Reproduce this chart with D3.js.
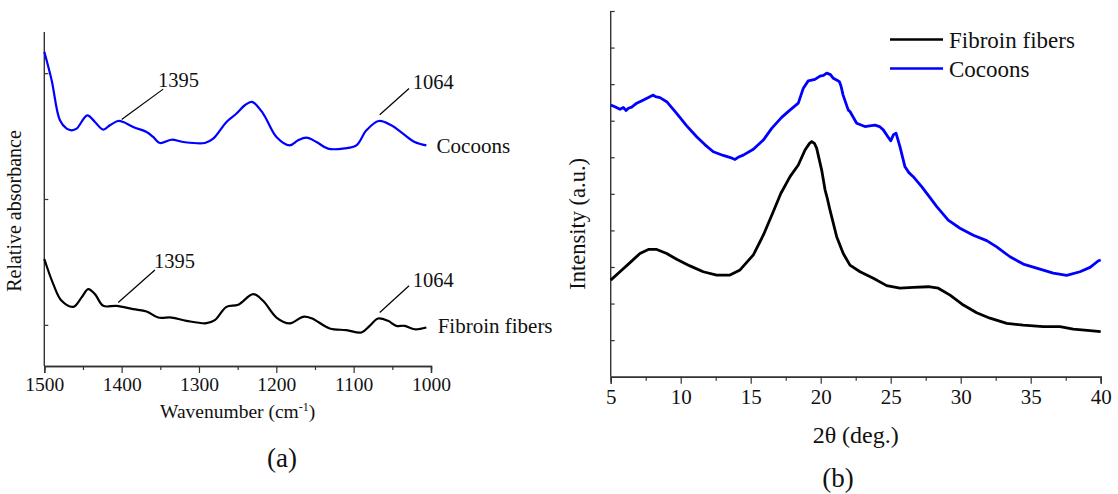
<!DOCTYPE html>
<html>
<head>
<meta charset="utf-8">
<script src="https://cdn.jsdelivr.net/npm/d3@7"></script>
<style>
  body { margin: 0; background: #fff; }
  svg { display: block; }
</style>
</head>
<body>
<svg id="chart" width="1118" height="494"></svg>
<script>
// ---------------- Data: (a) FTIR ----------------
const ftirXTicks = [1500, 1400, 1300, 1200, 1100, 1000];
const ftirXMinor = [1450, 1350, 1250, 1150, 1050];
const ftirYTicks = [0, 1, 2];
const ftirCocoons = [
  [1500, 2.17], [1490.5, 1.944], [1479.8, 1.625], [1471.1, 1.559], [1464.7, 1.546], [1458.2, 1.559],
  [1444.4, 1.665], [1434.5, 1.612], [1423.8, 1.551], [1415.2, 1.586], [1404.4, 1.62], [1397.9, 1.612],
  [1385.0, 1.572], [1367.8, 1.533], [1359.2, 1.493], [1350.6, 1.445], [1335.5, 1.471], [1320.4, 1.453],
  [1292.4, 1.445], [1281.6, 1.479], [1264.4, 1.612], [1251.5, 1.679], [1240.7, 1.745], [1231.3, 1.772],
  [1217.1, 1.679], [1199.8, 1.493], [1182.6, 1.426], [1171.9, 1.466], [1161.1, 1.487], [1148.1, 1.453],
  [1133.1, 1.4], [1111.6, 1.402], [1096.5, 1.426], [1083.5, 1.546], [1067.6, 1.62], [1051.3, 1.586],
  [1036.2, 1.519], [1021.1, 1.453], [1006.0, 1.426]
];
const ftirFibroin = [
  [1500, 0.523], [1488.4, 0.324], [1477.6, 0.191], [1462.5, 0.143], [1451.8, 0.218], [1443.2, 0.284],
  [1434.5, 0.244], [1423.8, 0.151], [1406.5, 0.151], [1385.0, 0.125], [1367.8, 0.106], [1352.7, 0.058],
  [1335.5, 0.058], [1316.1, 0.032], [1290.3, 0.013], [1279.5, 0.037], [1264.4, 0.143], [1249.4, 0.159],
  [1230.0, 0.244], [1217.1, 0.191], [1199.8, 0.058], [1182.6, 0.011], [1165.4, 0.064], [1154.6, 0.053],
  [1130.9, -0.029], [1109.4, -0.042], [1090.0, -0.061], [1079.3, -0.008], [1068.5, 0.05], [1055.6, 0.032],
  [1044.8, -0.008], [1034.1, -0.008], [1021.1, -0.035], [1006.0, -0.021]
];
// annotations: label, leader start (x1,y1), leader end (x2,y2), text anchor (tx,ty) in data units
const ftirAnnotations = [
  { label: "1395", x1: 1400.0, y1: 1.631, x2: 1346.3, y2: 1.873, tx: 1353.1, ty: 1.888 },
  { label: "1395", x1: 1404.4, y1: 0.178, x2: 1357.0, y2: 0.436, tx: 1358.3, ty: 0.454 },
  { label: "1064", x1: 1066.3, y1: 1.669, x2: 1028.4, y2: 1.878, tx: 1023.6, ty: 1.873 },
  { label: "1064", x1: 1066.3, y1: 0.098, x2: 1028.4, y2: 0.311, tx: 1023.6, ty: 0.303 }
];
const ftirSeriesLabels = [
  { label: "Cocoons", x: 992.8, y: 1.363 },
  { label: "Fibroin fibers", x: 991.4, y: -0.064 }
];

// ---------------- Data: (b) XRD ----------------
const xrdXTicks = [5, 10, 15, 20, 25, 30, 35, 40];
const xrdXMinor = [7.5, 12.5, 17.5, 22.5, 27.5, 32.5, 37.5];
const xrdYTicks = [1, 2, 3, 4, 5, 6, 7, 8, 9, 10];
const xrdCocoons = [
  [5, 7.43], [5.3, 7.38], [5.66, 7.31], [5.9, 7.36], [6.1, 7.28], [6.26, 7.34], [6.5, 7.37], [6.86, 7.48],
  [7.45, 7.59], [8.04, 7.70], [8.2, 7.66], [8.52, 7.63], [9.0, 7.52], [9.71, 7.20], [10.43, 6.86],
  [11.14, 6.56], [11.74, 6.34], [12.33, 6.15], [13.04, 6.05], [13.5, 6.0], [13.88, 5.94], [14.1, 6.0],
  [14.47, 6.06], [15.19, 6.22], [15.9, 6.47], [16.5, 6.79], [17.21, 7.09], [17.8, 7.29], [18.4, 7.48],
  [18.76, 7.89], [19.11, 8.09], [19.59, 8.13], [19.95, 8.22], [20.2, 8.24], [20.43, 8.30], [20.7, 8.26],
  [20.9, 8.16], [21.2, 8.10], [21.33, 8.07], [21.45, 7.95], [21.6, 7.70], [21.97, 7.29], [22.09, 7.25],
  [22.57, 6.93], [23.16, 6.84], [23.5, 6.86], [23.88, 6.88], [24.2, 6.84], [24.47, 6.75], [24.8, 6.56],
  [25.0, 6.45], [25.2, 6.62], [25.38, 6.66], [25.66, 6.29], [26.02, 5.74], [26.3, 5.58], [26.61, 5.47],
  [27.21, 5.20], [27.7, 4.95], [28.29, 4.65], [29.11, 4.28], [29.95, 4.06], [30.9, 3.87], [31.86, 3.72],
  [32.57, 3.55], [33.52, 3.28], [34.47, 3.08], [35.66, 2.94], [36.61, 2.83], [37.57, 2.77], [38.52, 2.87],
  [39.24, 2.99], [39.84, 3.17], [40, 3.19]
];
const xrdFibroin = [
  [5, 2.64], [5.66, 2.87], [6.38, 3.12], [7.09, 3.37], [7.69, 3.48], [8.29, 3.48], [9.0, 3.37],
  [9.71, 3.21], [10.66, 3.03], [11.61, 2.87], [12.57, 2.78], [13.52, 2.78], [14.24, 2.92], [15.19, 3.33],
  [15.9, 3.87], [16.61, 4.51], [17.15, 5.01], [17.81, 5.47], [18.4, 5.79], [18.88, 6.20], [19.2, 6.38],
  [19.36, 6.43], [19.55, 6.38], [19.71, 6.25], [20.07, 5.65], [20.31, 5.11], [20.47, 4.88], [20.66, 4.56],
  [21.14, 3.83], [21.61, 3.37], [22.09, 3.05], [22.81, 2.87], [23.76, 2.69], [24.71, 2.49], [25.66, 2.42],
  [26.61, 2.44], [27.69, 2.46], [28.4, 2.42], [29.24, 2.23], [30.19, 1.96], [31.14, 1.75], [32.09, 1.60],
  [33.29, 1.46], [34.47, 1.41], [35.9, 1.37], [37.09, 1.37], [38.04, 1.30], [39.24, 1.26], [40, 1.23]
];
const xrdLegend = [
  { label: "Fibroin fibers", color: "#000000" },
  { label: "Cocoons", color: "#0000ff" }
];

// ---------------- Drawing ----------------
const svg = d3.select("#chart");
const FONT = "'Liberation Serif', 'DejaVu Serif', 'Noto Serif', serif";
const AXIS_COLOR = "#333";

function styleAxis(g) {
  g.attr("font-family", FONT);
  g.select(".domain").attr("stroke", AXIS_COLOR).attr("stroke-width", 1.4);
  g.selectAll(".tick line").attr("stroke", AXIS_COLOR).attr("stroke-width", 1.2);
}
function txt(parent) {
  return parent.append("text").attr("font-family", FONT).attr("fill", "#111");
}

// ===== Panel (a) =====
const ax = d3.scaleLinear().domain([1500, 1000]).range([44.3, 431]);
const ay = d3.scaleLinear().domain([-0.327, 2.327]).range([366, 32]);
const ga = svg.append("g");

ga.append("g").attr("transform", `translate(0,${ay.range()[0]})`)
  .call(d3.axisBottom(ax).tickValues(ftirXMinor).tickSize(4).tickFormat(""))
  .call(styleAxis);
const axX = ga.append("g").attr("transform", `translate(0,${ay.range()[0]})`)
  .call(d3.axisBottom(ax).tickValues(ftirXTicks).tickSize(7).tickFormat(d3.format("d")))
  .call(styleAxis);
axX.selectAll(".tick text").attr("font-family", FONT).attr("font-size", 19.5).attr("fill", "#111")
  .attr("y", 11.5).attr("dy", "0.71em");
ga.append("g").attr("transform", `translate(${ax.range()[0]},0)`)
  .call(d3.axisRight(ay).tickValues(ftirYTicks).tickSize(4).tickFormat(""))
  .call(styleAxis)
  .call(g => g.select(".domain").attr("d", `M0,${ay.range()[0]}V${ay.range()[1]}`));

const lineA = d3.line().x(d => ax(d[0])).y(d => ay(d[1])).curve(d3.curveCatmullRom.alpha(0.5));
ga.append("path").datum(ftirCocoons).attr("d", lineA).attr("fill", "none")
  .attr("stroke", "#0000ff").attr("stroke-width", 2.2).attr("stroke-linejoin", "round");
ga.append("path").datum(ftirFibroin).attr("d", lineA).attr("fill", "none")
  .attr("stroke", "#000").attr("stroke-width", 2.2).attr("stroke-linejoin", "round");

ftirAnnotations.forEach(a => {
  ga.append("line").attr("x1", ax(a.x1)).attr("y1", ay(a.y1)).attr("x2", ax(a.x2)).attr("y2", ay(a.y2))
    .attr("stroke", "#000").attr("stroke-width", 1.2);
  txt(ga).attr("x", ax(a.tx)).attr("y", ay(a.ty)).attr("font-size", 20.5).text(a.label);
});
ftirSeriesLabels.forEach(s => {
  txt(ga).attr("x", ax(s.x)).attr("y", ay(s.y)).attr("font-size", 21).text(s.label);
});

const wt = txt(ga).attr("x", (ax.range()[0] + ax.range()[1]) / 2).attr("y", 418)
  .attr("text-anchor", "middle").attr("font-size", 19.5);
wt.append("tspan").text("Wavenumber (cm");
wt.append("tspan").attr("font-size", 12).attr("dy", -7).text("-1");
wt.append("tspan").attr("dy", 7).text(")");
txt(ga).attr("transform", `translate(21,${(ay.range()[0] + ay.range()[1]) / 2 + 12}) rotate(-90)`)
  .attr("text-anchor", "middle").attr("font-size", 20).text("Relative absorbance");
txt(ga).attr("x", 282).attr("y", 467).attr("text-anchor", "middle").attr("font-size", 27).text("(a)");

// ===== Panel (b) =====
const bx = d3.scaleLinear().domain([5, 40]).range([610.7, 1100.7]);
const by = d3.scaleLinear().domain([0, 10]).range([376.7, 11]);
const gb = svg.append("g");

gb.append("g").attr("transform", `translate(0,${by.range()[0]})`)
  .call(d3.axisBottom(bx).tickValues(xrdXMinor).tickSize(4).tickFormat(""))
  .call(styleAxis);
const bxA = gb.append("g").attr("transform", `translate(0,${by.range()[0]})`)
  .call(d3.axisBottom(bx).tickValues(xrdXTicks).tickSize(7).tickFormat(d3.format("d")))
  .call(styleAxis);
bxA.selectAll(".tick text").attr("font-family", FONT).attr("font-size", 21).attr("fill", "#111")
  .attr("y", 12.5).attr("dy", "0.71em");
gb.append("g").attr("transform", `translate(${bx.range()[0]},0)`)
  .call(d3.axisRight(by).tickValues(xrdYTicks).tickSize(4).tickFormat(""))
  .call(styleAxis)
  .call(g => g.select(".domain").attr("d", `M0,${by.range()[0]}V${by.range()[1]}`));

const lineB = d3.line().x(d => bx(d[0])).y(d => by(d[1])).curve(d3.curveLinear);
gb.append("path").datum(xrdCocoons).attr("d", lineB).attr("fill", "none")
  .attr("stroke", "#0000ff").attr("stroke-width", 2.8).attr("stroke-linejoin", "round");
gb.append("path").datum(xrdFibroin).attr("d", lineB).attr("fill", "none")
  .attr("stroke", "#000").attr("stroke-width", 2.8).attr("stroke-linejoin", "round");

xrdLegend.forEach((l, i) => {
  const y = 39.5 + i * 29;
  gb.append("line").attr("x1", 890).attr("x2", 943).attr("y1", y).attr("y2", y)
    .attr("stroke", l.color).attr("stroke-width", 2.6);
  txt(gb).attr("x", 949).attr("y", y).attr("dy", "0.35em").attr("font-size", 23).text(l.label);
});

txt(gb).attr("x", (bx.range()[0] + bx.range()[1]) / 2).attr("y", 443)
  .attr("text-anchor", "middle").attr("font-size", 24).text("2θ (deg.)");
txt(gb).attr("transform", `translate(585,${(by.range()[0] + by.range()[1]) / 2 + 30}) rotate(-90)`)
  .attr("text-anchor", "middle").attr("font-size", 22.5).text("Intensity (a.u.)");
txt(gb).attr("x", 838).attr("y", 487).attr("text-anchor", "middle").attr("font-size", 27).text("(b)");
</script>
</body>
</html>
